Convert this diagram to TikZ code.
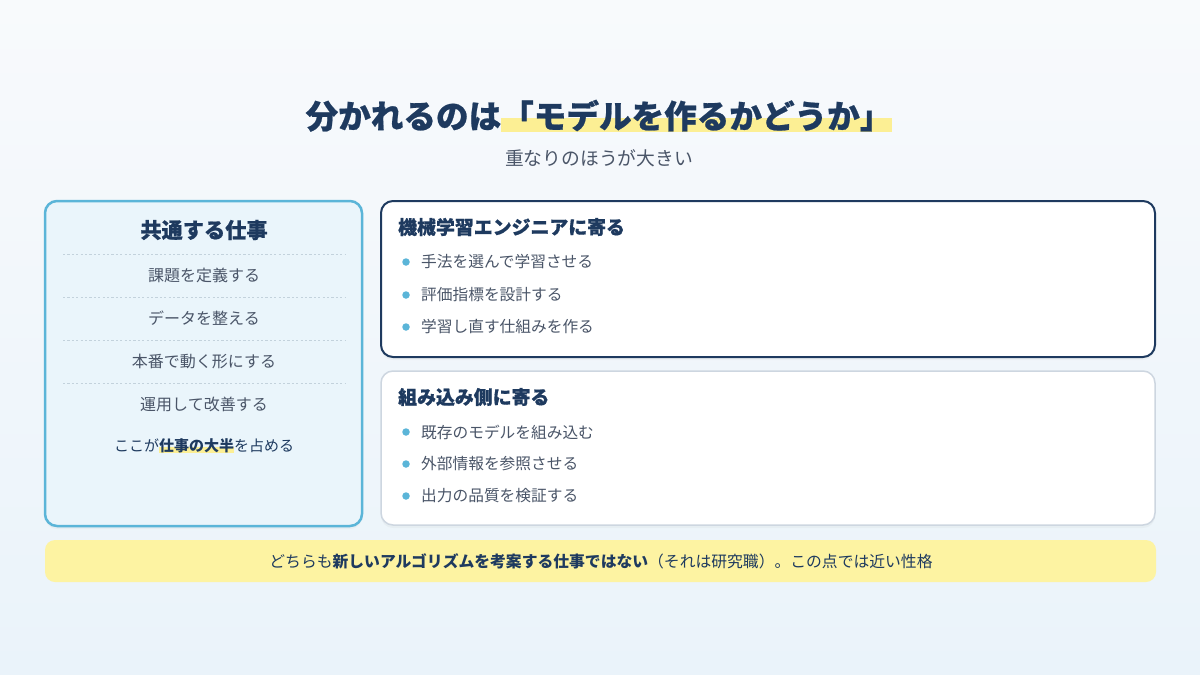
\documentclass[tikz,border=0pt]{standalone}
\usepackage{fontspec}
\setmainfont{Noto Sans CJK JP}
\newfontfamily\heavyfont{Noto Sans CJK JP}[BoldFeatures={FakeBold=0.7}]
\usetikzlibrary{shadows}
\definecolor{navy}{HTML}{1E3A5F}
\definecolor{txtgray}{HTML}{4A5568}
\definecolor{sky}{HTML}{5BB5D8}
\definecolor{lightbox}{HTML}{EAF5FB}
\definecolor{hly}{HTML}{FCEF94}
\definecolor{barY}{HTML}{FDF3A2}
\definecolor{graybd}{HTML}{CDD6E0}
\definecolor{sepc}{HTML}{C3D2DC}
\definecolor{bgA}{HTML}{F8FAFC}
\definecolor{bgB}{HTML}{EAF3FA}
\newsavebox\hlsave
\newcommand\hlmark[1]{\sbox\hlsave{#1}\rlap{\color{hly}\rule[-0.12em]{\wd\hlsave}{0.45em}}\usebox\hlsave}
\tikzset{
  card/.style={rounded corners=12pt, minimum width=774pt, anchor=center, inner sep=0pt,
    drop shadow={opacity=0.06, shadow xshift=0pt, shadow yshift=-3pt}},
  heading/.style={anchor=west, inner sep=0pt, text=navy, font=\fontsize{18.9}{22}\heavyfont\bfseries},
  item/.style={anchor=west, inner sep=0pt, text=txtgray, font=\fontsize{15.7}{19}\selectfont},
  litem/.style={anchor=center, inner sep=0pt, text=txtgray, font=\fontsize{16}{19}\selectfont},
  bulletdot/.style={circle, fill=sky, inner sep=0pt, minimum size=7.5pt},
  sepline/.style={draw=sepc, line width=0.9pt, dash pattern=on 2.2pt off 2.2pt},
}
\begin{document}
\begin{tikzpicture}[x=1pt, y=-1pt]
\useasboundingbox (0,0) rectangle (1200,675);
\shade[top color=bgA, bottom color=bgB] (0,0) rectangle (1200,675);

% title
\node[inner sep=0pt, text=navy, font=\fontsize{32.6}{38}\heavyfont\bfseries] (title) at (599,116)
  {分かれるのは\hlmark{「モデルを作るかどうか」}};
\node[inner sep=0pt, text=txtgray, font=\fontsize{18.8}{22}\selectfont] (subtitle) at (599,158) {重なりのほうが大きい};

% left box
\node[card, draw=sky, line width=2.5pt, fill=lightbox, minimum width=317pt, minimum height=325pt] (lb) at (203.5,363.5) {};
\node[inner sep=0pt, text=navy, font=\fontsize{21.2}{24}\heavyfont\bfseries] (lh) at (204,230) {共通する仕事};
\coordinate (s1a) at (63,254); \coordinate (s1b) at (345,254);
\coordinate (s2a) at (63,297); \coordinate (s2b) at (345,297);
\coordinate (s3a) at (63,340); \coordinate (s3b) at (345,340);
\coordinate (s4a) at (63,383); \coordinate (s4b) at (345,383);
\draw[sepline] (s1a) -- (s1b);
\draw[sepline] (s2a) -- (s2b);
\draw[sepline] (s3a) -- (s3b);
\draw[sepline] (s4a) -- (s4b);
\node[litem] (l1) at (204,275) {課題を定義する};
\node[litem] (l2) at (204,318) {データを整える};
\node[litem] (l3) at (204,361) {本番で動く形にする};
\node[litem] (l4) at (204,404) {運用して改善する};
\node[litem, text=navy, font=\fontsize{15}{19}\selectfont] (l5) at (204,446) {ここが\hlmark{\bfseries 仕事の大半}を占める};

% right box 1
\node[card, draw=navy, line width=2pt, fill=white, minimum height=156pt] (rb1) at (768,279) {};
\node[heading] (h1) at (398,227) {機械学習エンジニアに寄る};
\node[bulletdot] (d11) at (406,262) {};
\node[bulletdot] (d12) at (406,295) {};
\node[bulletdot] (d13) at (406,327) {};
\node[item] (t11) at (421,262) {手法を選んで学習させる};
\node[item] (t12) at (421,295) {評価指標を設計する};
\node[item] (t13) at (421,327) {学習し直す仕組みを作る};

% right box 2
\node[card, draw=graybd, line width=1.5pt, fill=white, minimum height=154pt] (rb2) at (768,448) {};
\node[heading] (h2) at (398,397) {組み込み側に寄る};
\node[bulletdot] (d21) at (406,432) {};
\node[bulletdot] (d22) at (406,464) {};
\node[bulletdot] (d23) at (406,496) {};
\node[item] (t21) at (421,432) {既存のモデルを組み込む};
\node[item] (t22) at (421,464) {外部情報を参照させる};
\node[item] (t23) at (421,496) {出力の品質を検証する};

% bottom bar
\node[rounded corners=10pt, fill=barY, minimum width=1111pt, minimum height=42pt, inner sep=0pt] (bar) at (600.5,561) {};
\node[inner sep=0pt, text=navy, font=\fontsize{15.8}{19}\selectfont] (bt) at (601,561)
  {どちらも{\bfseries 新しいアルゴリズムを考案する仕事ではない}（それは研究職）。この点では近い性格};
\end{tikzpicture}
\end{document}
